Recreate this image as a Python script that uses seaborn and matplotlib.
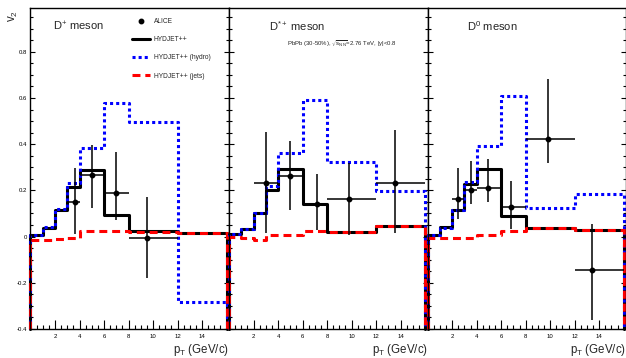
import matplotlib
matplotlib.use("Agg")
import matplotlib.pyplot as plt
import matplotlib.ticker as mticker
from matplotlib.lines import Line2D
import pandas as pd
import seaborn as sns

# pT bin edges of the HYDJET++ histograms (GeV/c)
EDGES = [0, 1, 2, 3, 4, 6, 8, 12, 16]
Y_MIN, Y_MAX = -0.4, 0.99

# HYDJET++ v2, one value per pT bin
dplus_full = [0.009, 0.039, 0.114, 0.216, 0.288, 0.093, 0.023, 0.016]
dplus_hydro = [0.009, 0.040, 0.119, 0.233, 0.383, 0.578, 0.498, -0.284]
dplus_jets = [-0.013, -0.013, -0.012, -0.005, 0.025, 0.025, 0.022, 0.016]

dstar_full = [0.013, 0.032, 0.100, 0.200, 0.293, 0.139, 0.020, 0.045]
dstar_hydro = [0.013, 0.032, 0.100, 0.219, 0.361, 0.593, 0.322, 0.198]
dstar_jets = [-0.002, -0.008, -0.013, 0.005, 0.008, 0.023, 0.020, 0.045]

dzero_full = [0.009, 0.042, 0.117, 0.226, 0.291, 0.090, 0.038, 0.027]
dzero_hydro = [0.006, 0.039, 0.117, 0.235, 0.394, 0.607, 0.122, 0.184]
dzero_jets = [-0.006, -0.006, -0.006, -0.005, 0.008, 0.024, 0.038, 0.027]

# ALICE data: pT, v2, lower/upper error, pT bin low/high
dplus_pt = [3.6, 5.0, 7.0, 9.5]
dplus_v2 = [0.150, 0.265, 0.190, -0.004]
dplus_elo = [0.140, 0.143, 0.120, 0.174]
dplus_ehi = [0.147, 0.130, 0.177, 0.176]
dplus_blo = [3, 4, 6, 8]
dplus_bhi = [4, 6, 8, 12]

dstar_pt = [3.0, 5.0, 7.2, 9.8, 13.5]
dstar_v2 = [0.230, 0.262, 0.143, 0.162, 0.230]
dstar_elo = [0.214, 0.145, 0.116, 0.155, 0.214]
dstar_ehi = [0.222, 0.152, 0.128, 0.155, 0.232]
dstar_blo = [2, 4, 6, 8, 12]
dstar_bhi = [4, 6, 8, 12, 16]

dzero_pt = [2.5, 3.5, 4.9, 6.8, 9.8, 13.4]
dzero_v2 = [0.162, 0.201, 0.211, 0.129, 0.422, -0.143]
dzero_elo = [0.087, 0.062, 0.061, 0.094, 0.102, 0.217]
dzero_ehi = [0.134, 0.128, 0.124, 0.111, 0.258, 0.197]
dzero_blo = [2, 3, 4, 6, 8, 12]
dzero_bhi = [3, 4, 6, 8, 12, 16]

PANELS = [
    ("D$^{+}$ meson", dplus_full, dplus_hydro, dplus_jets,
     dplus_pt, dplus_v2, dplus_elo, dplus_ehi, dplus_blo, dplus_bhi),
    ("D$^{*+}$ meson", dstar_full, dstar_hydro, dstar_jets,
     dstar_pt, dstar_v2, dstar_elo, dstar_ehi, dstar_blo, dstar_bhi),
    ("D$^{0}$ meson", dzero_full, dzero_hydro, dzero_jets,
     dzero_pt, dzero_v2, dzero_elo, dzero_ehi, dzero_blo, dzero_bhi),
]

BLUE = "#0000ff"
RED = "#ff0000"
STYLES = {
    "full": dict(color="black", lw=2.2, linestyle="-"),
    "hydro": dict(color=BLUE, lw=2.2, linestyle=(0, (1, 1))),
    "jets": dict(color=RED, lw=2.2, linestyle=(0, (2.6, 1.6))),
}


def hist_outline(values):
    # ROOT style histogram outline, dropping to the frame at both ends
    xs, ys = [EDGES[0]], [Y_MIN]
    for lo, hi, v in zip(EDGES[:-1], EDGES[1:], values):
        xs += [lo, hi]
        ys += [v, v]
    xs.append(EDGES[-1])
    ys.append(Y_MIN)
    return pd.DataFrame({"pt": xs, "v2": ys})


sns.set_style("ticks")
plt.rcParams["font.family"] = ["Liberation Sans", "DejaVu Sans"]
plt.rcParams["mathtext.fontset"] = "custom"
plt.rcParams["mathtext.rm"] = "Liberation Sans"
plt.rcParams["mathtext.it"] = "Liberation Sans:italic"
plt.rcParams["mathtext.default"] = "regular"

fig = plt.figure(figsize=(6.26, 3.58), dpi=100)
left0, width = 0.0487, 0.3172
bottom, height = 0.081, 0.897

for i, (title, full, hydro, jets, pt, v2, elo, ehi, blo, bhi) in enumerate(PANELS):
    ax = fig.add_axes([left0 + i * width, bottom, width, height])
    for key, vals in (("full", full), ("hydro", hydro), ("jets", jets)):
        line_ax = sns.lineplot(data=hist_outline(vals), x="pt", y="v2",
                               estimator=None, sort=False, legend=False,
                               ax=ax, **STYLES[key])
        line_ax.lines[-1].set_clip_on(False)

    xerr = [[p - a for p, a in zip(pt, blo)], [b - p for p, b in zip(pt, bhi)]]
    ax.errorbar(pt, v2, yerr=[elo, ehi], xerr=xerr, fmt="o", ms=3.2,
                color="black", elinewidth=1.1, capsize=0, zorder=5)

    ax.set_xlim(0, 16.2)
    ax.set_ylim(Y_MIN, Y_MAX)
    ax.set_xlabel("")
    ax.set_ylabel("")
    ax.set_xticks(range(0, 17, 2))
    ax.set_xticklabels([""] + [str(t) for t in range(2, 15, 2)] + [""])
    ax.xaxis.set_minor_locator(mticker.MultipleLocator(0.5))
    ax.yaxis.set_major_locator(mticker.MultipleLocator(0.2))
    ax.yaxis.set_minor_locator(mticker.MultipleLocator(0.05))
    ax.yaxis.set_major_formatter(mticker.FuncFormatter(lambda v, _: f"{v:g}" if abs(v) > 1e-9 else "0"))
    ax.tick_params(axis="both", which="both", direction="in", top=False,
                   right=True, labelsize=4.3, colors="black")
    ax.tick_params(axis="x", which="major", length=6.5, width=0.8, pad=3.5)
    ax.tick_params(axis="x", which="minor", length=3.2, width=0.8)
    ax.tick_params(axis="y", which="major", length=3.8, width=0.8, pad=2.5)
    ax.tick_params(axis="y", which="minor", length=2.0, width=0.8)
    if i > 0:
        ax.tick_params(axis="y", labelleft=False)
    for spine in ax.spines.values():
        spine.set_visible(True)
        spine.set_linewidth(1.0)
        spine.set_color("black")

    ax.text(0.113 if i == 0 else 0.2, 0.943, title, transform=ax.transAxes,
            fontsize=8, ha="left", va="center")
    ax.text(1.0, -0.064, "p$_{T}$ (GeV/c)", transform=ax.transAxes,
            fontsize=8.3, ha="right", va="center")

    if i == 1:
        ax.text(0.291, 0.887, r"PbPb (30-50%), $\sqrt{s_{NN}}$=2.76 TeV, |y|<0.8",
                transform=ax.transAxes, fontsize=4.3, ha="left", va="center")

    if i == 0:
        handles = [
            Line2D([], [], marker="o", ls="none", color="black", ms=3.2),
            Line2D([], [], **STYLES["full"]),
            Line2D([], [], **STYLES["hydro"]),
            Line2D([], [], **STYLES["jets"]),
        ]
        labels = ["ALICE", "HYDJET++", "HYDJET++ (hydro)", "HYDJET++ (jets)"]
        ax.legend(handles, labels, loc="upper left", bbox_to_anchor=(132 / 626, 1 - 18 / 358),
                  bbox_transform=fig.transFigure, frameon=False, fontsize=4.8,
                  handlelength=2.7, handletextpad=0.6, labelspacing=1.68,
                  borderpad=0, borderaxespad=0)

fig.text(13 / 626, 1 - 16 / 358, "v$_{2}$", rotation=90, fontsize=8.3,
         ha="center", va="center")

fig.savefig("out.png", dpi=100)
